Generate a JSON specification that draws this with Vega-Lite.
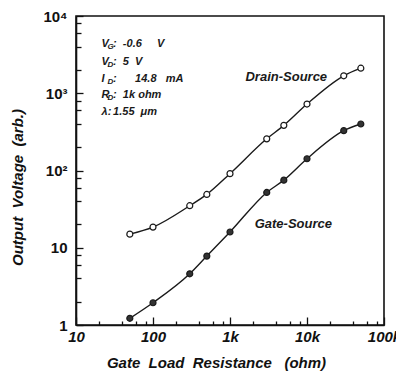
{
  "$schema": "https://vega.github.io/schema/vega-lite/v6.json",
  "width": 308,
  "height": 309,
  "autosize": {"type": "none"},
  "padding": {"left": 76, "top": 16, "right": 12, "bottom": 46},
  "background": "white",
  "config": {
    "view": {"stroke": "#111", "strokeWidth": 1.6},
    "font": "Liberation Sans",
    "axis": {"grid": false, "domainColor": "#111", "domainWidth": 1.6, "tickColor": "#111", "tickWidth": 1.3, "labelColor": "#111", "titleColor": "#111"}
  },
  "datasets": {
    "curves": [
      {"series": "Drain-Source", "resistance": 50, "voltage": 15},
      {"series": "Drain-Source", "resistance": 100, "voltage": 18.5},
      {"series": "Drain-Source", "resistance": 300, "voltage": 35},
      {"series": "Drain-Source", "resistance": 500, "voltage": 49},
      {"series": "Drain-Source", "resistance": 1000, "voltage": 91},
      {"series": "Drain-Source", "resistance": 3000, "voltage": 257},
      {"series": "Drain-Source", "resistance": 5000, "voltage": 384},
      {"series": "Drain-Source", "resistance": 10000, "voltage": 725},
      {"series": "Drain-Source", "resistance": 30000, "voltage": 1683},
      {"series": "Drain-Source", "resistance": 50000, "voltage": 2110},
      {"series": "Gate-Source", "resistance": 50, "voltage": 1.22},
      {"series": "Gate-Source", "resistance": 100, "voltage": 1.94},
      {"series": "Gate-Source", "resistance": 300, "voltage": 4.6},
      {"series": "Gate-Source", "resistance": 500, "voltage": 7.8},
      {"series": "Gate-Source", "resistance": 1000, "voltage": 16},
      {"series": "Gate-Source", "resistance": 3000, "voltage": 52},
      {"series": "Gate-Source", "resistance": 5000, "voltage": 75},
      {"series": "Gate-Source", "resistance": 10000, "voltage": 142},
      {"series": "Gate-Source", "resistance": 30000, "voltage": 328},
      {"series": "Gate-Source", "resistance": 50000, "voltage": 400}
    ],
    "labels": [
      {"label": "Drain-Source", "resistance": 5380, "voltage": 1607},
      {"label": "Gate-Source", "resistance": 6640, "voltage": 20.2}
    ],
    "notes": [
      {"main": "V", "sub": "G", "rest": ":\u00a0\u00a0-0.6\u00a0\u00a0\u00a0\u00a0\u00a0V", "resistance": 21.5, "voltage": 4385},
      {"main": "V", "sub": "D", "rest": ":\u00a0\u00a05\u00a0\u00a0V", "resistance": 21.5, "voltage": 2535},
      {"main": "\u00a0I", "sub": "D", "rest": ":\u00a0\u00a0\u00a0\u00a0\u00a0\u00a014.8\u00a0\u00a0\u00a0mA", "resistance": 21.5, "voltage": 1547},
      {"main": "R", "sub": "D", "rest": ":\u00a0\u00a01k\u00a0ohm", "resistance": 21.5, "voltage": 940},
      {"main": "λ:", "sub": "", "rest": "\u00a01.55\u00a0\u00a0μm", "resistance": 21.5, "voltage": 572}
    ]
  },
  "encoding": {
    "x": {
      "field": "resistance", "type": "quantitative",
      "scale": {"type": "log", "domain": [10, 100000], "nice": false},
      "axis": {
        "title": "Gate\u00a0\u00a0Load\u00a0\u00a0Resistance\u00a0\u00a0\u00a0(ohm)",
        "values": [10, 20, 40, 60, 80, 100, 200, 400, 600, 800, 1000, 2000, 4000, 6000, 8000, 10000, 20000, 40000, 60000, 80000, 100000],
        "labelExpr": "datum.value == 10 ? '10' : datum.value == 100 ? '100' : datum.value == 1000 ? '1k' : datum.value == 10000 ? '10k' : datum.value == 100000 ? '100k' : ''",
        "tickSize": {"condition": {"test": "indexof([10,100,1000,10000,100000], datum.value) >= 0", "value": -8}, "value": -4},
        "labelFontSize": 15, "labelFontWeight": "bold", "labelFontStyle": "italic",
        "labelPadding": 12, "labelFlush": false, "labelOverlap": false,
        "titleFontSize": 15, "titleFontWeight": "bold", "titleFontStyle": "italic",
        "titlePadding": 7, "titleX": 140
      }
    },
    "y": {
      "field": "voltage", "type": "quantitative",
      "scale": {"type": "log", "domain": [1, 10000], "nice": false},
      "axis": {
        "title": "Output\u00a0\u00a0Voltage\u00a0\u00a0(arb.)",
        "values": [1, 2, 4, 6, 8, 10, 20, 40, 60, 80, 100, 200, 400, 600, 800, 1000, 2000, 4000, 6000, 8000, 10000],
        "labelExpr": "datum.value == 1 ? '1' : datum.value == 10 ? '10' : datum.value == 100 ? '10²' : datum.value == 1000 ? '10³' : datum.value == 10000 ? '10⁴' : ''",
        "tickSize": {"condition": {"test": "indexof([1,10,100,1000,10000], datum.value) >= 0", "value": -7}, "value": -5},
        "labelFontSize": 15, "labelFontWeight": "bold",
        "labelPadding": 16, "labelFlush": false, "labelOverlap": false,
        "titleFontSize": 15, "titleFontWeight": "bold", "titleFontStyle": "italic",
        "titlePadding": 17, "titleY": 171
      }
    }
  },
  "layer": [
    {
      "data": {"name": "curves"},
      "mark": {"type": "line", "interpolate": "monotone", "color": "#1a1a1a", "strokeWidth": 1.4},
      "encoding": {"detail": {"field": "series"}}
    },
    {
      "data": {"name": "curves"},
      "mark": {"type": "point", "filled": true, "shape": "circle", "size": 36, "stroke": "#1a1a1a", "strokeWidth": 1.2, "opacity": 1},
      "encoding": {
        "fill": {"field": "series", "type": "nominal", "scale": {"domain": ["Drain-Source", "Gate-Source"], "range": ["white", "#333"]}, "legend": null}
      }
    },
    {
      "data": {"name": "labels"},
      "mark": {"type": "text", "font": "Liberation Sans", "fontSize": 13, "fontWeight": "bold", "fontStyle": "italic", "color": "#1a1a1a", "align": "center", "baseline": "middle"},
      "encoding": {"text": {"field": "label"}}
    },
    {
      "data": {"name": "notes"},
      "mark": {"type": "text", "font": "Liberation Sans", "fontSize": 11, "fontWeight": "bold", "fontStyle": "italic", "color": "#1a1a1a", "align": "left", "baseline": "middle"},
      "encoding": {"text": {"field": "main"}}
    },
    {
      "data": {"name": "notes"},
      "mark": {"type": "text", "font": "Liberation Sans", "fontSize": 8, "fontWeight": "bold", "fontStyle": "italic", "color": "#1a1a1a", "align": "left", "baseline": "middle", "dx": 6, "dy": 3},
      "encoding": {"text": {"field": "sub"}}
    },
    {
      "data": {"name": "notes"},
      "mark": {"type": "text", "font": "Liberation Sans", "fontSize": 11, "fontWeight": "bold", "fontStyle": "italic", "color": "#1a1a1a", "align": "left", "baseline": "middle", "dx": 11.5},
      "encoding": {"text": {"field": "rest"}}
    }
  ]
}
